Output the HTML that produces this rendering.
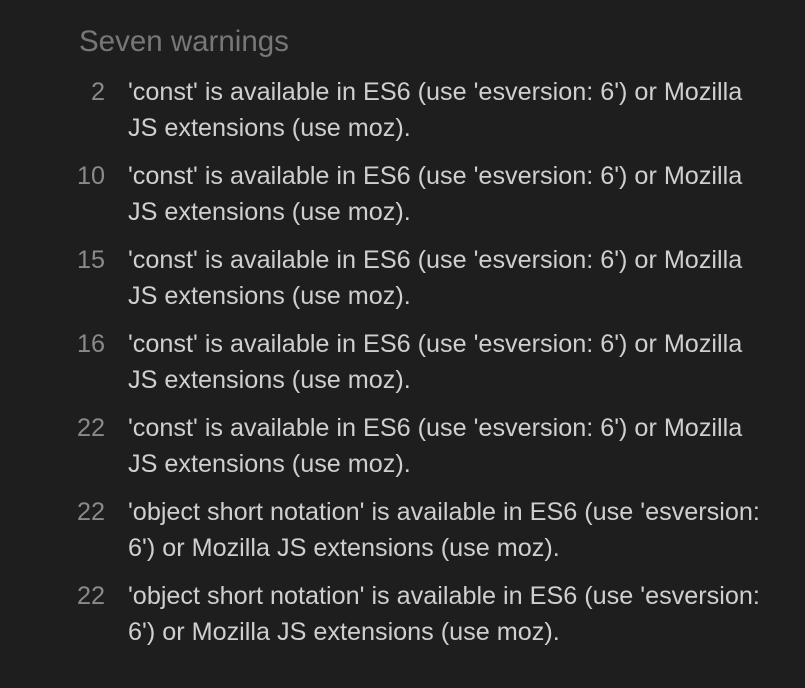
<!DOCTYPE html>
<html><head><meta charset="utf-8"><style>
html,body{margin:0;padding:0;background:#1e1e1e;width:805px;height:688px;overflow:hidden}
body{font-family:"Liberation Sans",Arial,sans-serif;position:relative}
.t{position:absolute;left:79px;top:24px;font-size:29.5px;color:#777;line-height:36px}
.r{position:absolute;left:0;width:805px;font-size:25.2px;line-height:36px;white-space:nowrap}
.n{position:absolute;right:700px;color:#8a8a8a;text-align:right}
.m{position:absolute;left:128px;color:#cfcfcf}
</style></head><body>
<div class="t">Seven warnings</div>
<div class="r" style="top:74px"><span class="n">2</span><span class="m">'const' is available in ES6 (use 'esversion: 6') or Mozilla<br>JS extensions (use moz).</span></div>
<div class="r" style="top:158px"><span class="n">10</span><span class="m">'const' is available in ES6 (use 'esversion: 6') or Mozilla<br>JS extensions (use moz).</span></div>
<div class="r" style="top:242px"><span class="n">15</span><span class="m">'const' is available in ES6 (use 'esversion: 6') or Mozilla<br>JS extensions (use moz).</span></div>
<div class="r" style="top:326px"><span class="n">16</span><span class="m">'const' is available in ES6 (use 'esversion: 6') or Mozilla<br>JS extensions (use moz).</span></div>
<div class="r" style="top:410px"><span class="n">22</span><span class="m">'const' is available in ES6 (use 'esversion: 6') or Mozilla<br>JS extensions (use moz).</span></div>
<div class="r" style="top:494px"><span class="n">22</span><span class="m">'object short notation' is available in ES6 (use 'esversion:<br>6') or Mozilla JS extensions (use moz).</span></div>
<div class="r" style="top:578px"><span class="n">22</span><span class="m">'object short notation' is available in ES6 (use 'esversion:<br>6') or Mozilla JS extensions (use moz).</span></div>
</body></html>
